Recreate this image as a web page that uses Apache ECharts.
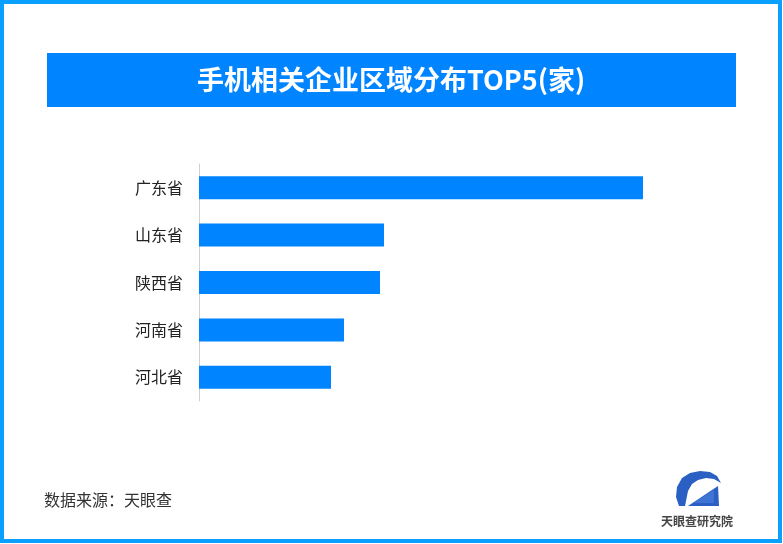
<!DOCTYPE html>
<html><head><meta charset="utf-8">
<script src="https://cdn.jsdelivr.net/npm/echarts@6/dist/echarts.min.js"></script>
<style>html,body{margin:0;padding:0;background:#fff}#c{width:783px;height:544px}</style>
</head><body><div id="c"></div>
<script>
var categories = ['广东省', '山东省', '陕西省', '河南省', '河北省'];
var values = [4440, 1850, 1810, 1450, 1320];
var titleText = '手机相关企业区域分布TOP5(家)';
var sourceText = '数据来源：天眼查';
var logoText = '天眼查研究院';

var chart = echarts.init(document.getElementById('c'), null, {renderer: 'canvas'});
var font = '"Noto Sans CJK SC", "Noto Sans", sans-serif';
chart.setOption({
  animation: false,
  backgroundColor: '#fff',
  grid: {left: 199, right: 47, top: 164, bottom: 143, containLabel: false},
  xAxis: {type: 'value', min: 0, max: 5370, show: false},
  yAxis: {
    type: 'category', inverse: true, data: categories,
    axisLine: {show: true, lineStyle: {color: '#d0d0d0', width: 1}},
    axisTick: {show: false},
    axisLabel: {color: '#222', fontSize: 16, margin: 16, fontFamily: font}
  },
  series: [{
    type: 'bar', data: values, barWidth: 23,
    itemStyle: {color: '#0084ff'}
  }],
  graphic: [
    {type: 'rect', shape: {x: 2, y: 2, width: 778, height: 539}, style: {fill: 'none', stroke: '#0aa0ff', lineWidth: 4}, silent: true, z: 100},
    {type: 'rect', shape: {x: 47, y: 53, width: 689, height: 54}, style: {fill: '#0084ff'}},
    {type: 'text', x: 391, y: 80, style: {text: titleText, fill: '#fff', font: 'bold 27px ' + font, textAlign: 'center', textVerticalAlign: 'middle'}},
    {type: 'text', x: 44, y: 500, style: {text: sourceText, fill: '#333', font: '16px ' + font, textAlign: 'left', textVerticalAlign: 'middle'}},
    {type: 'polygon', shape: {points: [[679,506],[676,497],[677,487],[682,478],[690,473],[700,471],[710,472],[717,476],[721,483],[714,479],[706,478],[698,480],[692,484],[688,491],[685,506]]}, style: {fill: '#2a5fc4'}},
    {type: 'polygon', shape: {points: [[688,506],[718,486],[719,506]]}, style: {fill: '#2a5fc4'}},
    {type: 'polygon', shape: {points: [[693,503],[714,490],[714,503]]}, style: {fill: '#3f74d4'}},
    {type: 'text', x: 697, y: 521, style: {text: logoText, fill: '#444', font: 'bold 12px ' + font, textAlign: 'center', textVerticalAlign: 'middle'}}
  ]
});
</script></body></html>
